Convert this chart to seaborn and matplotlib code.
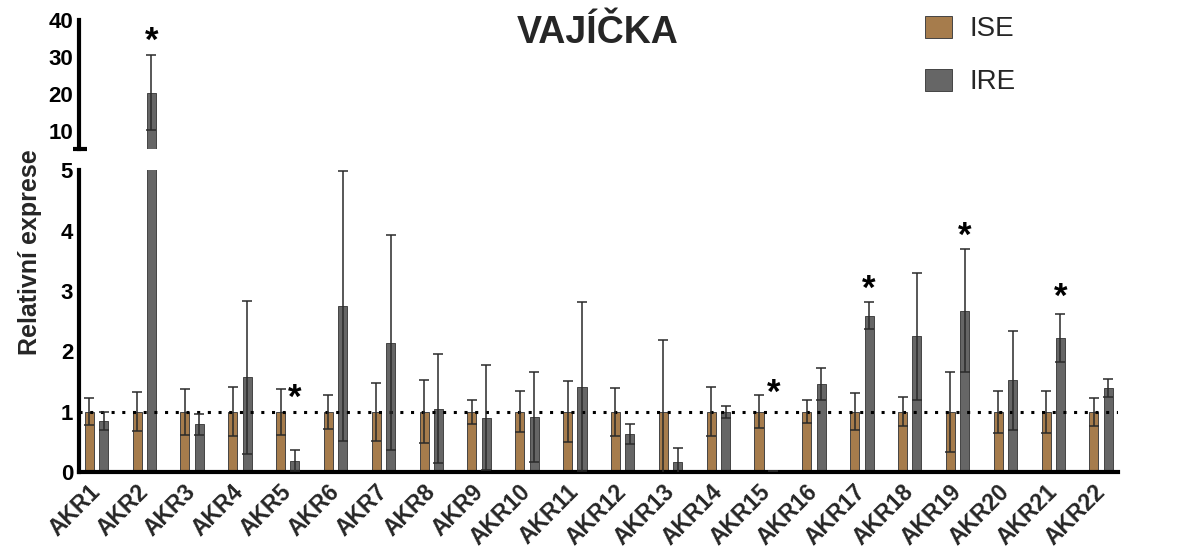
import numpy as np
import pandas as pd
import matplotlib
matplotlib.use("Agg")
import matplotlib.pyplot as plt
import matplotlib.transforms as mtransforms
import seaborn as sns

# ---------------- data ----------------
genes = [f"AKR{i}" for i in range(1, 23)]
ise_mean = [1.0] * 22
ise_err = [0.22, 0.32, 0.38, 0.41, 0.38, 0.28, 0.48, 0.52, 0.20, 0.34, 0.50,
           0.40, 1.18, 0.41, 0.27, 0.19, 0.31, 0.24, 0.66, 0.35, 0.35, 0.23]
ire_mean = [0.85, 20.3, 0.79, 1.57, 0.19, 2.75, 2.14, 1.05, 0.90, 0.91, 1.41,
            0.63, 0.17, 1.00, 0.02, 1.46, 2.59, 2.25, 2.67, 1.52, 2.22, 1.39]
ire_err = [0.15, 10.2, 0.17, 1.27, 0.18, 2.24, 1.78, 0.90, 0.87, 0.75, 1.40,
           0.17, 0.23, 0.10, 0.00, 0.27, 0.22, 1.05, 1.02, 0.82, 0.40, 0.15]
groups = ["ISE", "IRE"]
colors = ["#A67C4C", "#666666"]
star_genes = ["AKR2", "AKR5", "AKR15", "AKR17", "AKR19", "AKR21"]
star_y = [34.3, 1.22, 1.30, 3.02, 3.90, 2.90]
lower_ticks = [0, 1, 2, 3, 4, 5]
upper_ticks = [10, 20, 30, 40]
title = "VAJÍČKA"
ylabel = "Relativní exprese"
BREAK = 5

df = pd.DataFrame({
    "gene": genes * 2,
    "group": [groups[0]] * len(genes) + [groups[1]] * len(genes),
    "value": ise_mean + ire_mean,
})
errs = [ise_err, ire_err]
means = [ise_mean, ire_mean]

sns.set_style("white")
plt.rcParams["font.family"] = ["Liberation Sans", "DejaVu Sans"]
plt.rcParams["font.weight"] = "bold"

fig = plt.figure(figsize=(11.84, 5.56), dpi=100)
L, W = 0.0665, 0.878
ax_top = fig.add_axes([L, 0.732, W, 0.232])
ax_bot = fig.add_axes([L, 0.151, W, 0.543])

bar_conts = {}
for ax in (ax_top, ax_bot):
    sns.barplot(data=df, x="gene", y="value", hue="group", hue_order=groups,
                palette=colors, width=0.6, gap=0.37, errorbar=None,
                edgecolor="#444444", linewidth=0.7, saturation=1,
                legend=False, ax=ax)
    conts = list(ax.containers)
    bar_conts[ax] = conts
    for ci, cont in enumerate(conts):
        m = np.array(means[ci])
        e = np.array(errs[ci])
        xs = np.array([b.get_x() + b.get_width() / 2 for b in cont])
        sel = m > BREAK if ax is ax_top else np.ones_like(m, dtype=bool)
        if sel.any():
            ax.errorbar(xs[sel], m[sel], yerr=e[sel], fmt="none",
                        ecolor="#2a2a2a", elinewidth=1.1, capsize=3.5,
                        capthick=1.1, zorder=4)
    ax.set_xlim(-0.37, 21.36)
    ax.set_xlabel("")
    ax.set_ylabel("")
    for s in ["top", "right"]:
        ax.spines[s].set_visible(False)
    ax.spines["left"].set_linewidth(3)
    ax.spines["left"].set_color("black")
    ax.tick_params(axis="y", direction="in", length=9, width=3, labelsize=16,
                   pad=4, colors="black")

# lower axis
ax_bot.set_ylim(0, BREAK)
ax_bot.set_yticks(lower_ticks)
ax_bot.spines["bottom"].set_linewidth(3)
ax_bot.spines["bottom"].set_color("black")
ax_bot.axhline(1, color="black", lw=2.2, ls=(0, (1, 2.5)), zorder=3)
ax_bot.tick_params(axis="x", length=0, pad=6, labelsize=16.5)
shift = mtransforms.ScaledTranslation(-8 / 100, 0, fig.dpi_scale_trans)
for lbl in ax_bot.get_xticklabels():
    lbl.set_rotation(45)
    lbl.set_ha("right")
    lbl.set_rotation_mode("anchor")
    lbl.set_transform(lbl.get_transform() + shift)

# upper axis
ax_top.set_ylim(BREAK, 40)
ax_top.set_yticks(upper_ticks)
ax_top.spines["bottom"].set_visible(False)
ax_top.set_xticks([])
ax_top.plot([-0.0055, 0.0075], [0, 0], transform=ax_top.transAxes, color="black",
            lw=3, clip_on=False, solid_capstyle="butt")

# stars
for g, yv in zip(star_genes, star_y):
    i = genes.index(g)
    ax = ax_top if yv > BREAK else ax_bot
    b = bar_conts[ax][1][i]
    ax.text(b.get_x() + b.get_width() / 2, yv, "*", ha="center", va="center",
            fontsize=25, fontweight="bold", color="black")

fig.text(0.505, 1 - 33 / 556, title, ha="center", va="center", fontsize=27,
         fontweight="bold")
fig.text(0.025, 1 - 252 / 556, ylabel, ha="center", va="center", rotation=90,
         fontsize=18, fontweight="bold")

handles = [bar_conts[ax_bot][0][0], bar_conts[ax_bot][1][0]]
fig.legend(handles, groups, loc="upper left", bbox_to_anchor=(0.781, 0.972),
           frameon=False, prop={"size": 20, "weight": "normal"},
           handlelength=1.0, handleheight=0.85, labelspacing=0.95,
           handletextpad=0.6, borderpad=0.0, borderaxespad=0.0)

fig.savefig("out.png", dpi=100)
